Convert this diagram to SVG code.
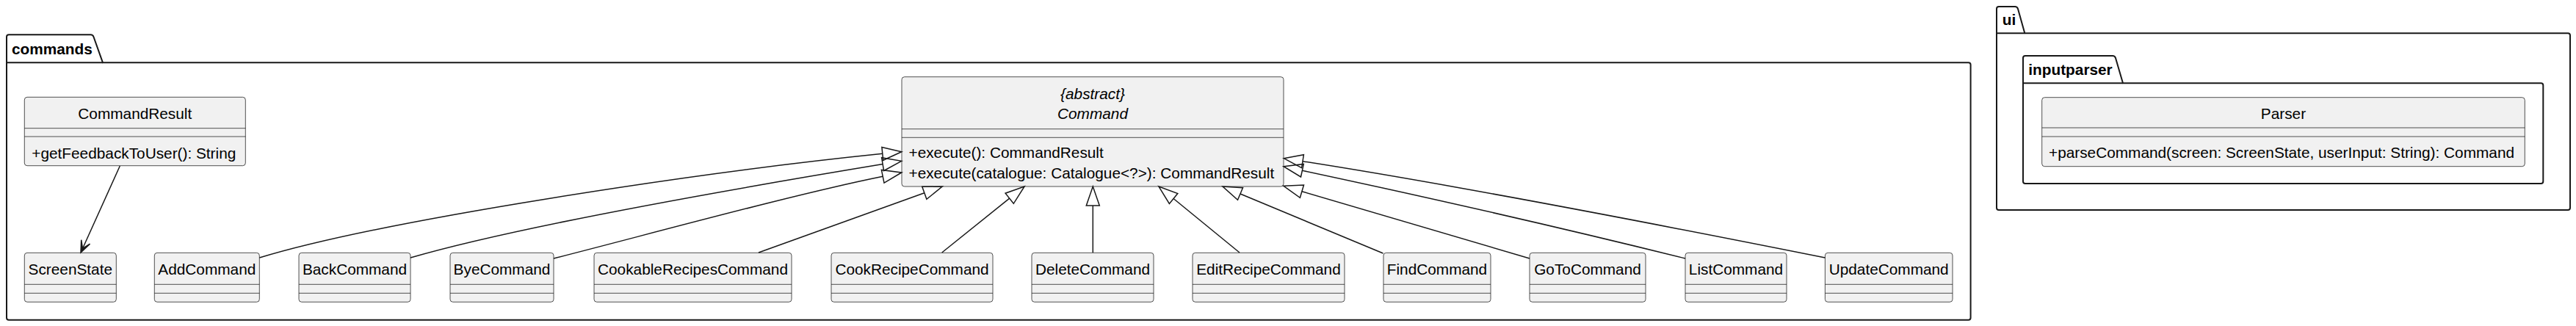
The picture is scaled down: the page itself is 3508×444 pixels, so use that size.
<svg xmlns="http://www.w3.org/2000/svg" width="3508" height="444" viewBox="0 0 3508 444">
<style>
  .pkg { fill: none; stroke: #181818; stroke-width: 2; stroke-linejoin: round; }
  .pkgname { font-family: "Liberation Sans", Arial, sans-serif; font-size: 20.8px; font-weight: bold; fill: #000; }
  .box { fill: #F1F1F1; stroke: #181818; stroke-width: 0.75; }
  .div { stroke: #181818; stroke-width: 0.75; }
  .name { font-family: "Liberation Sans", Arial, sans-serif; font-size: 20.8px; fill: #000; text-anchor: middle; }
  .abs { font-style: italic; }
  .mem { font-family: "Liberation Sans", Arial, sans-serif; font-size: 20.8px; fill: #000; }
  .edge { fill: none; stroke: #181818; stroke-width: 1.5; }
  .ext { fill: none; stroke: #181818; stroke-width: 1.5; stroke-linejoin: miter; }
  .head { fill: #181818; stroke: #181818; stroke-width: 1.5; stroke-linejoin: miter; }
</style>
<rect x="0" y="0" width="3508" height="444" fill="#FFFFFF"/>

<g id="pkg-commands">
  <path class="pkg" d="M9,50.3 Q9,47.3 12,47.3 L123.5,47.3 Q126.5,47.3 127.5,50.3 L140,85.3 L2680.6,85.3 Q2683.6,85.3 2683.6,88.3 L2683.6,432.7 Q2683.6,435.7 2680.6,435.7 L12,435.7 Q9,435.7 9,432.7 Z"/>
  <line class="pkg" x1="9" y1="85.3" x2="140" y2="85.3"/>
  <text class="pkgname" x="16" y="74">commands</text>
</g>

<g id="pkg-ui">
  <path class="pkg" d="M2719,12 Q2719,9 2722,9 L2744,9 Q2747,9 2748,12 L2757.3,45.3 L3497,45.3 Q3500,45.3 3500,48.3 L3500,283 Q3500,286 3497,286 L2722,286 Q2719,286 2719,283 Z"/>
  <line class="pkg" x1="2719" y1="45.3" x2="2757.3" y2="45.3"/>
  <text class="pkgname" x="2726.7" y="34">ui</text>
</g>

<g id="pkg-inputparser">
  <path class="pkg" d="M2755,79 Q2755,76 2758,76 L2877,76 Q2880,76 2881,79 L2891,113.3 L3460.3,113.3 Q3463.3,113.3 3463.3,116.3 L3463.3,247 Q3463.3,250 3460.3,250 L2758,250 Q2755,250 2755,247 Z"/>
  <line class="pkg" x1="2755" y1="113.3" x2="2891" y2="113.3"/>
  <text class="pkgname" x="2762.3" y="101.7">inputparser</text>
</g>

<g id="CommandResult">
  <rect class="box" x="33.3" y="132.3" width="301" height="93.4" rx="3.75"/>
  <line class="div" x1="33.3" y1="174.7" x2="334.3" y2="174.7"/>
  <line class="div" x1="33.3" y1="186" x2="334.3" y2="186"/>
  <text class="name" x="183.8" y="161.7">CommandResult</text>
  <text class="mem" x="43.3" y="215.7">+getFeedbackToUser(): String</text>
</g>

<g id="Command">
  <rect class="box" x="1228" y="104.7" width="520" height="149.3" rx="3.75"/>
  <line class="div" x1="1228" y1="175.7" x2="1748" y2="175.7"/>
  <line class="div" x1="1228" y1="187.3" x2="1748" y2="187.3"/>
  <text class="name abs" x="1488" y="135">{abstract}</text>
  <text class="name abs" x="1488" y="162">Command</text>
  <text class="mem" x="1237.5" y="215">+execute(): CommandResult</text>
  <text class="mem" x="1237.5" y="243.3">+execute(catalogue: Catalogue&lt;?&gt;): CommandResult</text>
</g>

<g id="Parser">
  <rect class="box" x="2780.7" y="132.7" width="657.6" height="94" rx="3.75"/>
  <line class="div" x1="2780.7" y1="174" x2="3438.3" y2="174"/>
  <line class="div" x1="2780.7" y1="186" x2="3438.3" y2="186"/>
  <text class="name" x="3109.5" y="161.7">Parser</text>
  <text class="mem" x="2790" y="215">+parseCommand(screen: ScreenState, userInput: String): Command</text>
</g>

<g id="ScreenState">
  <rect class="box" x="33.3" y="344.3" width="125" height="67" rx="3.75"/>
  <line class="div" x1="33.3" y1="387.3" x2="158.3" y2="387.3"/>
  <line class="div" x1="33.3" y1="399.3" x2="158.3" y2="399.3"/>
  <text class="name" x="95.8" y="374">ScreenState</text>
</g>
<g id="AddCommand">
  <rect class="box" x="210.3" y="344.3" width="143" height="67" rx="3.75"/>
  <line class="div" x1="210.3" y1="387.3" x2="353.3" y2="387.3"/>
  <line class="div" x1="210.3" y1="399.3" x2="353.3" y2="399.3"/>
  <text class="name" x="281.8" y="374">AddCommand</text>
</g>
<g id="BackCommand">
  <rect class="box" x="407" y="344.3" width="152" height="67" rx="3.75"/>
  <line class="div" x1="407" y1="387.3" x2="559" y2="387.3"/>
  <line class="div" x1="407" y1="399.3" x2="559" y2="399.3"/>
  <text class="name" x="483" y="374">BackCommand</text>
</g>
<g id="ByeCommand">
  <rect class="box" x="613" y="344.3" width="141" height="67" rx="3.75"/>
  <line class="div" x1="613" y1="387.3" x2="754" y2="387.3"/>
  <line class="div" x1="613" y1="399.3" x2="754" y2="399.3"/>
  <text class="name" x="683.5" y="374">ByeCommand</text>
</g>
<g id="CookableRecipesCommand">
  <rect class="box" x="809" y="344.3" width="269" height="67" rx="3.75"/>
  <line class="div" x1="809" y1="387.3" x2="1078" y2="387.3"/>
  <line class="div" x1="809" y1="399.3" x2="1078" y2="399.3"/>
  <text class="name" x="943.5" y="374">CookableRecipesCommand</text>
</g>
<g id="CookRecipeCommand">
  <rect class="box" x="1132" y="344.3" width="220" height="67" rx="3.75"/>
  <line class="div" x1="1132" y1="387.3" x2="1352" y2="387.3"/>
  <line class="div" x1="1132" y1="399.3" x2="1352" y2="399.3"/>
  <text class="name" x="1242" y="374">CookRecipeCommand</text>
</g>
<g id="DeleteCommand">
  <rect class="box" x="1405" y="344.3" width="166" height="67" rx="3.75"/>
  <line class="div" x1="1405" y1="387.3" x2="1571" y2="387.3"/>
  <line class="div" x1="1405" y1="399.3" x2="1571" y2="399.3"/>
  <text class="name" x="1488" y="374">DeleteCommand</text>
</g>
<g id="EditRecipeCommand">
  <rect class="box" x="1624" y="344.3" width="207" height="67" rx="3.75"/>
  <line class="div" x1="1624" y1="387.3" x2="1831" y2="387.3"/>
  <line class="div" x1="1624" y1="399.3" x2="1831" y2="399.3"/>
  <text class="name" x="1727.5" y="374">EditRecipeCommand</text>
</g>
<g id="FindCommand">
  <rect class="box" x="1884" y="344.3" width="146" height="67" rx="3.75"/>
  <line class="div" x1="1884" y1="387.3" x2="2030" y2="387.3"/>
  <line class="div" x1="1884" y1="399.3" x2="2030" y2="399.3"/>
  <text class="name" x="1957" y="374">FindCommand</text>
</g>
<g id="GoToCommand">
  <rect class="box" x="2083" y="344.3" width="158" height="67" rx="3.75"/>
  <line class="div" x1="2083" y1="387.3" x2="2241" y2="387.3"/>
  <line class="div" x1="2083" y1="399.3" x2="2241" y2="399.3"/>
  <text class="name" x="2162" y="374">GoToCommand</text>
</g>
<g id="ListCommand">
  <rect class="box" x="2295" y="344.3" width="138" height="67" rx="3.75"/>
  <line class="div" x1="2295" y1="387.3" x2="2433" y2="387.3"/>
  <line class="div" x1="2295" y1="399.3" x2="2433" y2="399.3"/>
  <text class="name" x="2364" y="374">ListCommand</text>
</g>
<g id="UpdateCommand">
  <rect class="box" x="2485.4" y="344.3" width="173.6" height="67" rx="3.75"/>
  <line class="div" x1="2485.4" y1="387.3" x2="2659" y2="387.3"/>
  <line class="div" x1="2485.4" y1="399.3" x2="2659" y2="399.3"/>
  <text class="name" x="2572.2" y="374">UpdateCommand</text>
</g>

<g id="connectors">
  <!-- CommandResult -> ScreenState -->
  <path class="edge" d="M163.3,226 L112.5,338.5"/>
  <polygon class="head" points="110,344 122.5,332.1 112.5,338.5 110.7,326.7"/>

  <!-- AddCommand -> Command -->
  <path class="edge" d="M353.3,351 C520,300 950,235 1201.8,209.3"/>
  <polygon class="ext" points="1227.7,206.7 1202.7,218.3 1200.9,200.4"/>
  <!-- BackCommand -> Command -->
  <path class="edge" d="M559,351 C700,310 1000,257 1202.1,223.6"/>
  <polygon class="ext" points="1227.7,219.3 1203.6,232.5 1200.6,214.7"/>
  <!-- ByeCommand -> Command -->
  <path class="edge" d="M754,352 C880,320 1080,265 1202.2,240.3"/>
  <polygon class="ext" points="1227.7,235 1204,249.1 1200.4,231.5"/>
  <!-- CookableRecipesCommand -> Command -->
  <path class="edge" d="M1033,344 L1258.8,262.8"/>
  <polygon class="ext" points="1283.3,254 1261.9,271.3 1255.8,254.3"/>
  <!-- CookRecipeCommand -> Command -->
  <path class="edge" d="M1282.7,344 L1374.7,270.2"/>
  <polygon class="ext" points="1395,254 1380.3,277.3 1369.1,263.2"/>
  <!-- DeleteCommand -> Command -->
  <path class="edge" d="M1488.3,344 L1488.3,280"/>
  <polygon class="ext" points="1488.3,254 1479.3,280 1497.3,280"/>
  <!-- EditRecipeCommand -> Command -->
  <path class="edge" d="M1688,344 L1598.1,270.5"/>
  <polygon class="ext" points="1578,254 1603.8,263.5 1592.4,277.5"/>
  <!-- FindCommand -> Command -->
  <path class="edge" d="M1883.5,345 L1689,264"/>
  <polygon class="ext" points="1665,254 1692.5,255.7 1685.5,272.3"/>
  <!-- GoToCommand -> Command -->
  <path class="edge" d="M2083,352 L1772.9,260.7"/>
  <polygon class="ext" points="1748,253.3 1775.5,252 1770.4,269.3"/>
  <!-- ListCommand -> Command -->
  <path class="edge" d="M2295,352 C2150,316 1950,270 1773.4,232.2"/>
  <polygon class="ext" points="1748,226.7 1775.3,223.4 1771.5,241"/>
  <!-- UpdateCommand -> Command -->
  <path class="edge" d="M2485.4,351 C2300,314 2000,255 1774,219.7"/>
  <polygon class="ext" points="1748.3,215.7 1775.4,210.8 1772.6,228.6"/>
</g>
</svg>
